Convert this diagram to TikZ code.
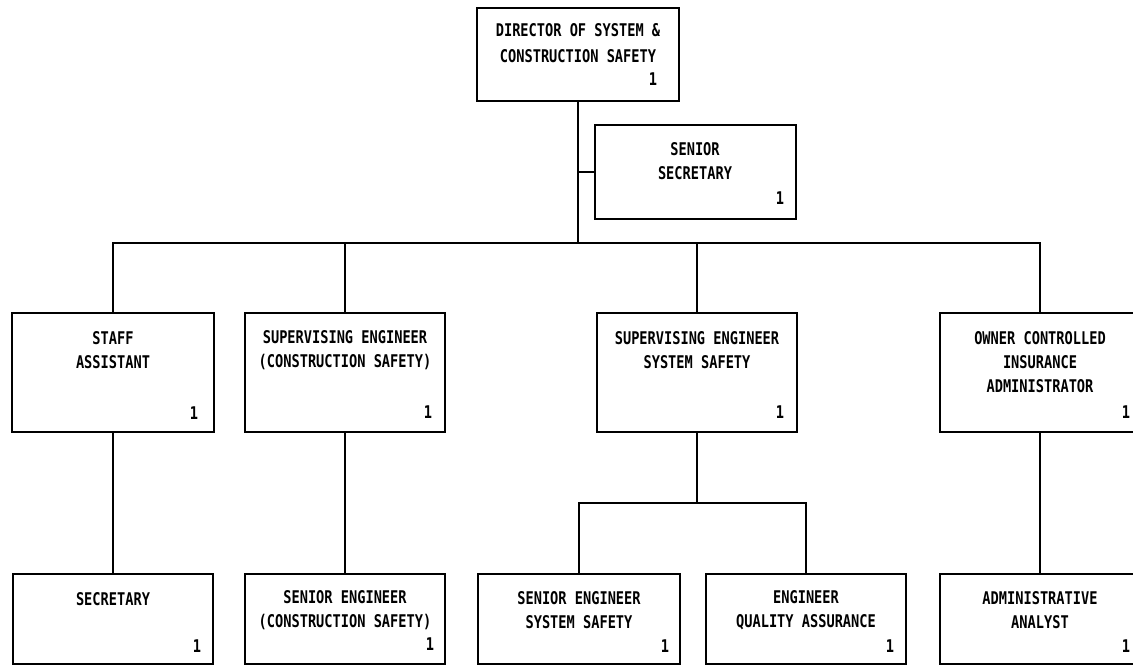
\documentclass[tikz,border=0pt]{standalone}
\usepackage{fontspec}
\newfontfamily\orgfont{DejaVu Sans Mono}[FakeStretch=0.78]
\tikzset{
  orgbox/.style={draw=black, line width=1.3pt, inner sep=0pt, rectangle},
  lbl/.style={align=center, inner sep=0pt, text=black,
    font=\orgfont\bfseries\fontsize{17.5}{24}\selectfont},
  num/.style={inner sep=0pt, text=black, font=\orgfont\bfseries\fontsize{17.5}{24}\selectfont},
  conn/.style={draw=black, line width=1.3pt},
}
\newcommand{\obox}[5]{%
  \node[orgbox, minimum width={#4-#2}, minimum height={#5-#3}] (#1) at ({(#2+#4)/2},{(#3+#5)/2}) {};}
\begin{document}
\begin{tikzpicture}[x=1pt,y=-1pt]
\clip (0,0) rectangle (1133,666);
\fill[white] (0,0) rectangle (1133,666);
% boxes
\obox{dir}{477}{8}{679}{101}
\obox{ssec}{595}{125}{796}{219}
\obox{staff}{12}{313}{214}{432}
\obox{sec}{245}{313}{445}{432}
\obox{ses}{597}{313}{797}{432}
\obox{own}{940}{313}{1140}{432}
\obox{secy}{13}{574}{213}{664}
\obox{senc}{245}{574}{445}{664}
\obox{sens}{478}{574}{680}{664}
\obox{eqa}{706}{574}{906}{664}
\obox{adm}{940}{574}{1140}{664}
% titles
\node[lbl, font=\orgfont\bfseries\fontsize{17.5}{26}\selectfont] (dirT) at (578,43) {DIRECTOR OF SYSTEM \&\\CONSTRUCTION SAFETY};
\node[lbl] (ssecT) at (695,161.5) {SENIOR\\SECRETARY};
\node[lbl] (staffT) at (113,350) {STAFF\\ASSISTANT};
\node[lbl] (secT) at (345,350) {SUPERVISING ENGINEER\\(CONSTRUCTION SAFETY)};
\node[lbl] (sesT) at (697,350) {SUPERVISING ENGINEER\\SYSTEM SAFETY};
\node[lbl] (ownT) at (1040,362) {OWNER CONTROLLED\\INSURANCE\\ADMINISTRATOR};
\node[lbl] (secyT) at (113,599) {SECRETARY};
\node[lbl] (sencT) at (345,610) {SENIOR ENGINEER\\(CONSTRUCTION SAFETY)};
\node[lbl] (sensT) at (579,610.5) {SENIOR ENGINEER\\SYSTEM SAFETY};
\node[lbl] (eqaT) at (806,610.5) {ENGINEER\\QUALITY ASSURANCE};
\node[lbl] (admT) at (1040,610.5) {ADMINISTRATIVE\\ANALYST};
% numbers
\node[num] (dirN) at (653,79) {1};
\node[num] (ssecN) at (780,198) {1};
\node[num] (staffN) at (194,413) {1};
\node[num] (secN) at (428,412) {1};
\node[num] (sesN) at (780,412) {1};
\node[num] (ownN) at (1126,412) {1};
\node[num] (secyN) at (197,646) {1};
\node[num] (sencN) at (430,644) {1};
\node[num] (sensN) at (665,646) {1};
\node[num] (eqaN) at (890,646) {1};
\node[num] (admN) at (1126,646) {1};
% connectors
\coordinate (bus) at (578,243);
\coordinate (sub) at (697,503);
\draw[conn] (dir.south) -- (dir.south |- bus);
\draw[conn] (ssec.west) -- (ssec.west -| dir.south);
\draw[conn] (staff.north) -- (staff.north |- bus) -| (own.north);
\draw[conn] (sec.north) -- (sec.north |- bus);
\draw[conn] (ses.north) -- (ses.north |- bus);
\draw[conn] (staff.south) -- (secy.north);
\draw[conn] (sec.south) -- (senc.north);
\draw[conn] (own.south) -- (adm.north);
\draw[conn] (ses.south) -- (ses.south |- sub);
\draw[conn] (sens.north) |- (sub) -| (eqa.north);
\end{tikzpicture}
\end{document}
